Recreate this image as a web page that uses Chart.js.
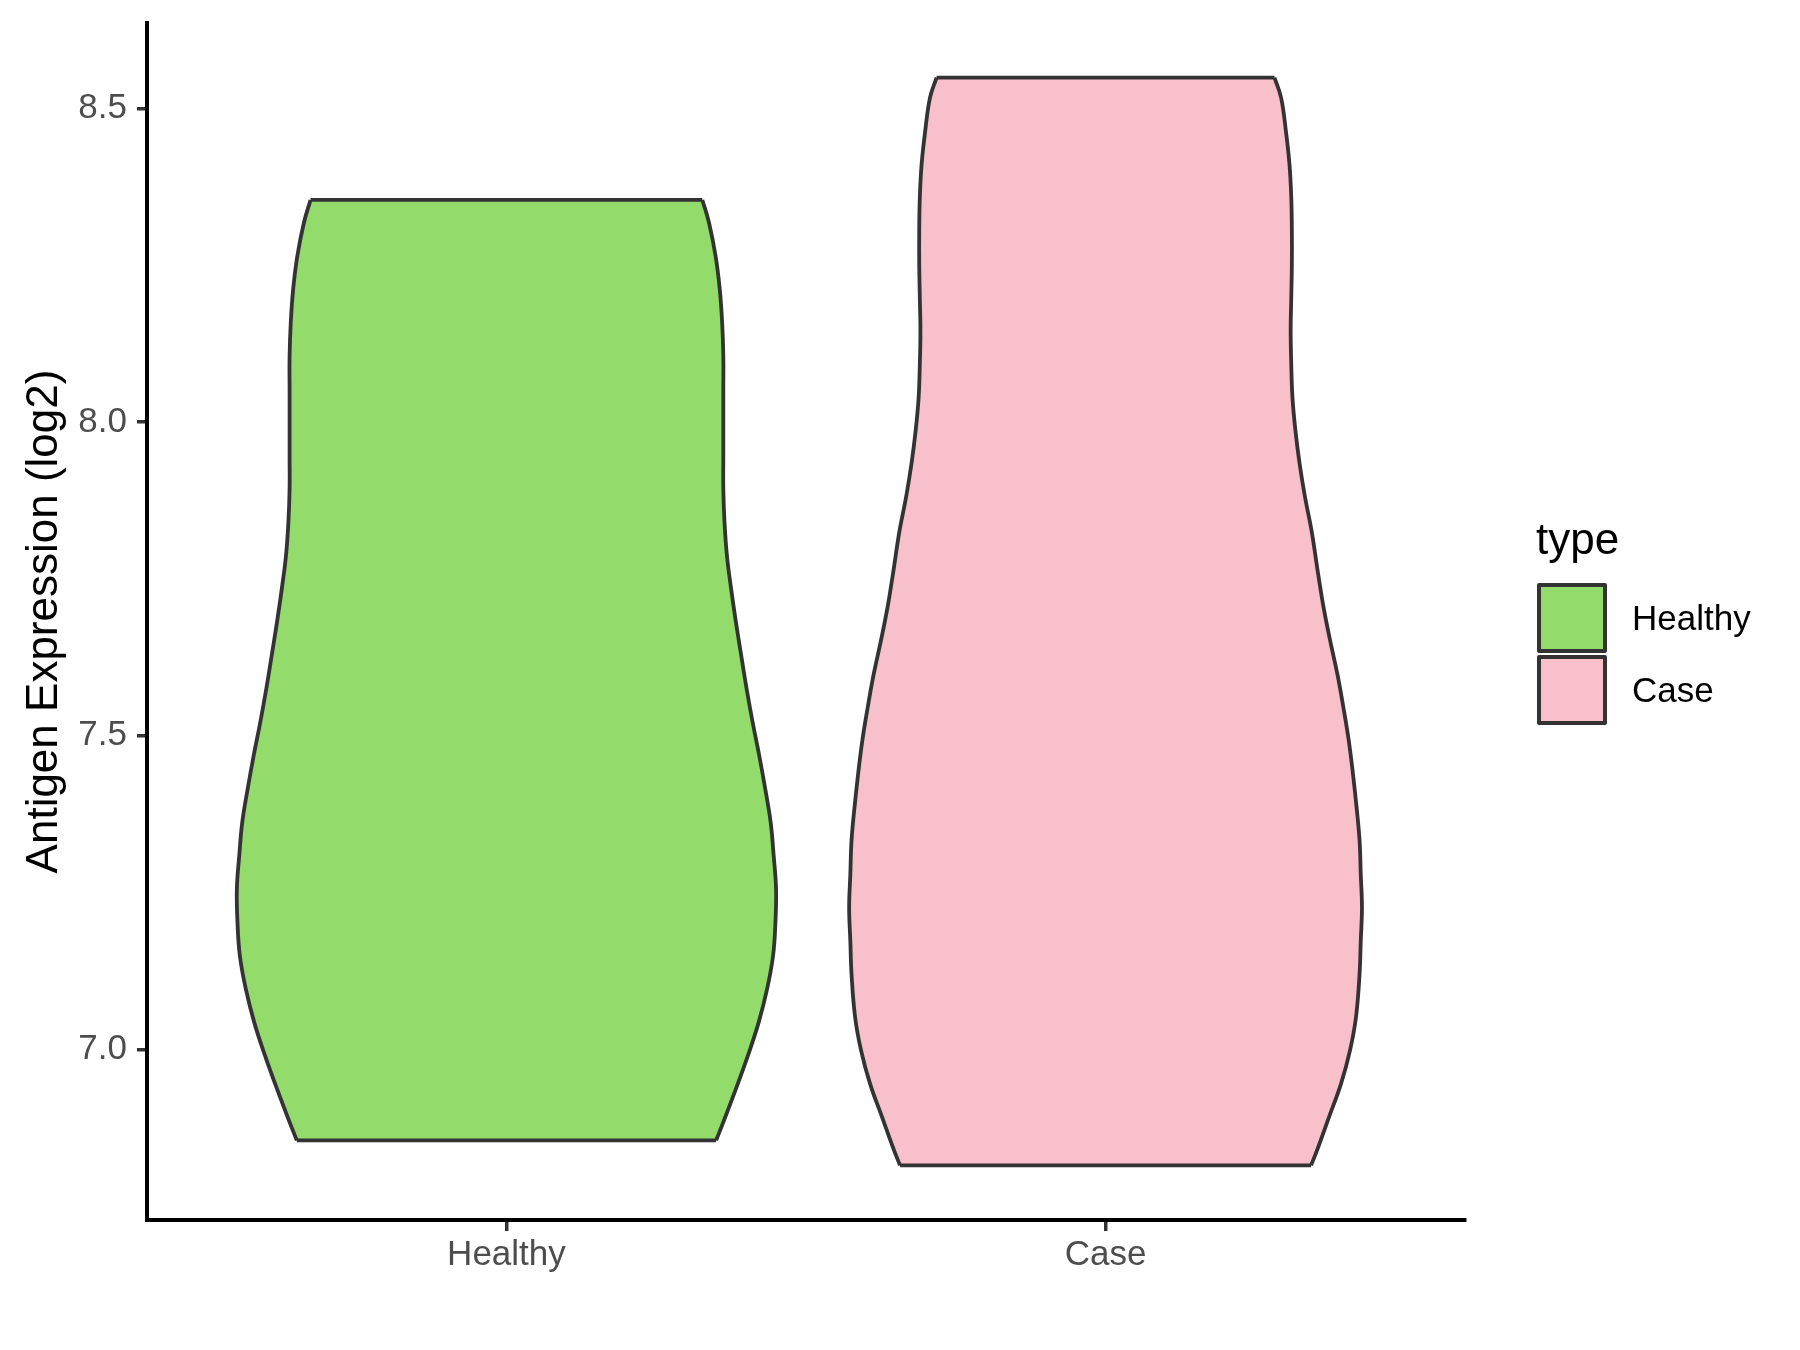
<!DOCTYPE html>
<html>
<head>
<meta charset="utf-8">
<title>Antigen Expression violin</title>
<script src="https://cdn.jsdelivr.net/npm/chart.js@4.4.1/dist/chart.umd.min.js"></script>
<style>
  body { margin: 0; background: #fff; }
  #wrap { position: relative; width: 1800px; height: 1350px; font-family: "Liberation Sans", Arial, sans-serif; }
  #legend { position: absolute; left: 0; top: 0; }
  .legend-title { position: absolute; left: 1536px; top: 517px; font-size: 44px; line-height: 44px; color: #000; white-space: nowrap; }
  .legend-key { position: absolute; left: 1537px; width: 62px; height: 62px; border: 4px solid #333; border-radius: 2px; }
  .legend-label { position: absolute; left: 1632px; font-size: 35px; line-height: 35px; color: #000; white-space: nowrap; }
</style>
</head>
<body>
<div id="wrap">
  <canvas id="chart" width="1800" height="1350"></canvas>
  <div id="legend"></div>
</div>
<script>
const categories = ["Healthy", "Case"];
const fillColors = ["#93DB6B", "#F7C0CB"];
const legendTitle = "type";

// violin outline: y value and half width (x units)
const healthyY = [8.354, 8.318, 8.265, 8.212, 8.159, 8.105, 8.052, 7.999, 7.946, 7.893, 7.840, 7.787, 7.734, 7.681, 7.627,
                  7.574, 7.521, 7.468, 7.415, 7.362, 7.309, 7.256, 7.203, 7.149, 7.096, 7.043, 6.990, 6.937, 6.884, 6.855];
const healthyWidth = [0.327, 0.338, 0.349, 0.356, 0.360, 0.362, 0.362, 0.362, 0.362, 0.362, 0.364, 0.368, 0.375, 0.383, 0.392,
                      0.401, 0.411, 0.422, 0.432, 0.441, 0.446, 0.450, 0.449, 0.445, 0.435, 0.421, 0.403, 0.383, 0.362, 0.350];

const caseY = [8.549, 8.517, 8.464, 8.411, 8.358, 8.305, 8.251, 8.198, 8.145, 8.092, 8.039, 7.986, 7.933, 7.880, 7.826, 7.757, 7.704,
               7.651, 7.598, 7.545, 7.492, 7.439, 7.386, 7.333, 7.279, 7.226, 7.173, 7.120, 7.051, 6.998, 6.945, 6.892, 6.839, 6.815];
const caseWidth = [0.282, 0.293, 0.301, 0.307, 0.310, 0.311, 0.311, 0.310, 0.309, 0.310, 0.312, 0.317, 0.324, 0.333, 0.344, 0.355, 0.364,
                   0.375, 0.387, 0.397, 0.406, 0.413, 0.419, 0.424, 0.426, 0.428, 0.426, 0.424, 0.418, 0.408, 0.393, 0.373, 0.353, 0.343];

const yTicks = [7.0, 7.5, 8.0, 8.5];
const yMin = 6.728;
const yMax = 8.636;
const yTitle = "Antigen Expression (log2)";

const outlineColor = "#333333";
const outlineWidth = 3.8;

function violinDatasets(idx, ys, widths) {
    const pos = idx + 1;
    const left = ys.map((y, k) => ({ x: pos - widths[k], y: y }));
    const right = ys.map((y, k) => ({ x: pos + widths[k], y: y }));
    const last = ys.length - 1;
    const side = {
        borderColor: outlineColor,
        borderWidth: outlineWidth,
        pointRadius: 0,
        tension: 0.4,
        fill: false
    };
    const edge = {
        borderColor: outlineColor,
        borderWidth: outlineWidth,
        pointRadius: 0,
        tension: 0,
        fill: false
    };
    return [
        Object.assign({ label: categories[idx] + " left", data: left }, side),
        Object.assign({ label: categories[idx], data: right }, side, { fill: "-1", backgroundColor: fillColors[idx] }),
        Object.assign({ label: categories[idx] + " top", data: [left[0], right[0]] }, edge),
        Object.assign({ label: categories[idx] + " bottom", data: [left[last], right[last]] }, edge)
    ];
}

const datasets = [
    ...violinDatasets(0, healthyY, healthyWidth),
    ...violinDatasets(1, caseY, caseWidth)
];

Chart.defaults.font.family = '"Liberation Sans", Arial, sans-serif';

const ctx = document.getElementById("chart").getContext("2d");
const chart = new Chart(ctx, {
    type: "line",
    data: { datasets: datasets },
    options: {
        responsive: false,
        animation: false,
        indexAxis: "y",
        layout: { padding: { top: 23, right: 335, left: 0, bottom: 0 } },
        scales: {
            x: {
                type: "linear",
                min: 0.4,
                max: 2.6,
                afterFit: (scale) => {
                    scale.height = 130;
                    scale.paddingLeft = 0;
                    scale.paddingRight = 0;
                },
                afterBuildTicks: (scale) => { scale.ticks = categories.map((c, i) => ({ value: i + 1 })); },
                ticks: {
                    autoSkip: false,
                    maxRotation: 0,
                    padding: 3,
                    color: "#4D4D4D",
                    font: { size: 35 },
                    callback: (v) => categories[Math.round(v) - 1]
                },
                grid: { drawOnChartArea: false, drawTicks: true, tickLength: 11, color: "#333333", lineWidth: 3.5 },
                border: { display: true, color: "#000000", width: 4 }
            },
            y: {
                type: "linear",
                min: yMin,
                max: yMax,
                afterFit: (scale) => {
                    scale.width = 147;
                    scale.paddingTop = 0;
                    scale.paddingBottom = 0;
                },
                afterBuildTicks: (scale) => { scale.ticks = yTicks.map(v => ({ value: v })); },
                ticks: {
                    padding: 10,
                    color: "#4D4D4D",
                    font: { size: 35 },
                    callback: (v) => Number(v).toFixed(1)
                },
                grid: { drawOnChartArea: false, drawTicks: true, tickLength: 10, color: "#333333", lineWidth: 3.5 },
                border: { display: true, color: "#000000", width: 4 },
                title: {
                    display: true,
                    text: yTitle,
                    color: "#000000",
                    font: { size: 44 },
                    padding: { top: 18, bottom: 0 }
                }
            }
        },
        plugins: {
            legend: { display: false },
            tooltip: { enabled: false },
            filler: { drawTime: "beforeDatasetsDraw" }
        }
    }
});

// legend as html
const legendEl = document.getElementById("legend");
let html = `<div class="legend-title">${legendTitle}</div>`;
categories.forEach((c, i) => {
    const boxTop = 583 + i * 72;
    html += `<div class="legend-key" style="top:${boxTop}px;background:${fillColors[i]}"></div>`;
    html += `<div class="legend-label" style="top:${boxTop + 17}px">${c}</div>`;
});
legendEl.innerHTML = html;
</script>
</body>
</html>
